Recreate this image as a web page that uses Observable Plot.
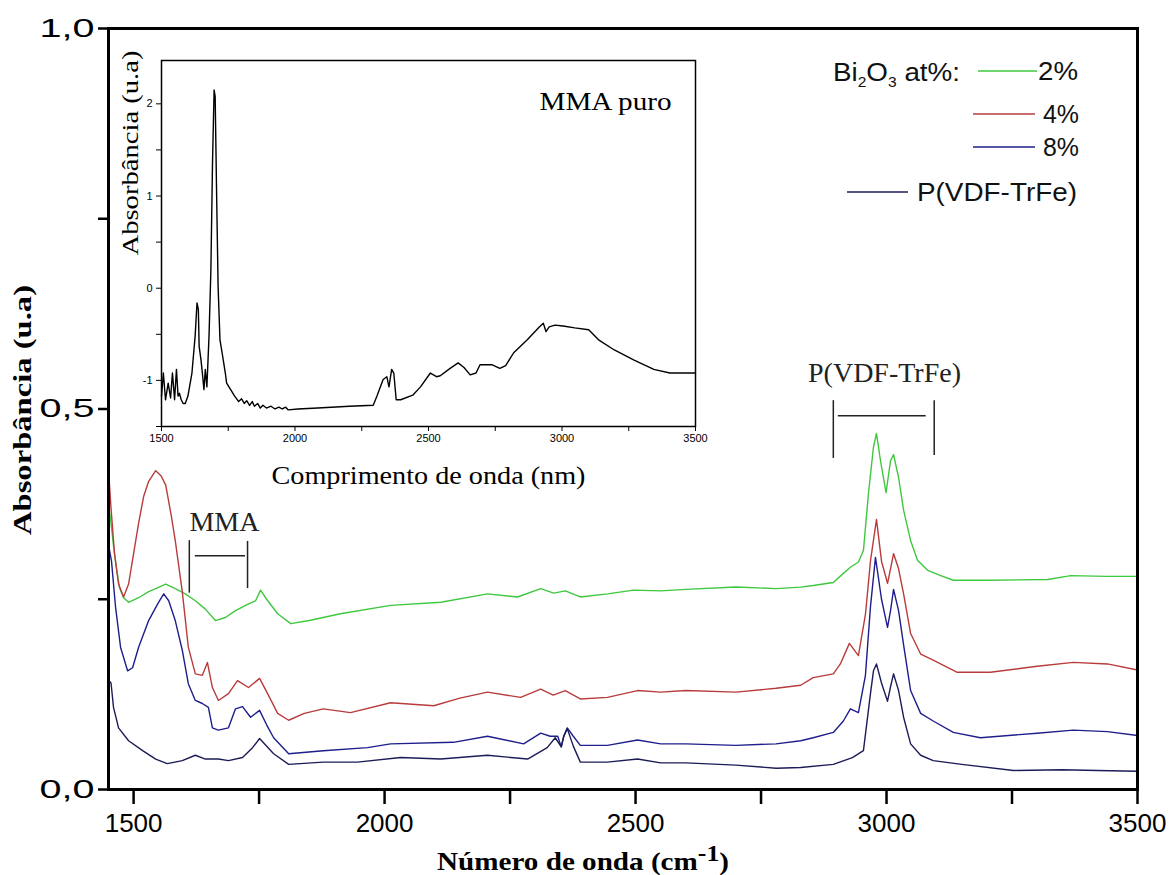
<!DOCTYPE html>
<html><head><meta charset="utf-8">
<script src="https://cdn.jsdelivr.net/npm/d3@7"></script>
<script src="https://cdn.jsdelivr.net/npm/@observablehq/plot@0.6"></script>
<style>
html,body{margin:0;padding:0;background:#fff;overflow:hidden;}
#wrap{position:relative;width:1172px;height:875px;}
#wrap svg{position:absolute;max-width:none;}
</style></head><body><div id="wrap"></div>
<script>
// ---------- main chart data (wavenumber cm-1, absorbance) ----------
const seriesNames = ["2%", "4%", "8%", "P(VDF-TrFe)"];
const seriesColors = ["#3fc83f", "#b83c3c", "#1e1e8c", "#1c1c58"];

const wn2 = [1451,1455,1460,1466,1472,1480,1490,1510,1530,1544,1564,1583,1603,1623,1643,1663,1683,1703,1729,1743,1753,1765,1787,1813,1850,1912,2012,2112,2205,2265,2311,2337,2360,2390,2444,2496,2550,2600,2700,2780,2829,2854,2894,2914,2928,2944,2954,2964,2974,2980,2988,2999,3008,3014,3024,3034,3048,3062,3082,3108,3133,3207,3321,3367,3440,3500];
const ab2 = [0.37,0.35,0.32,0.29,0.265,0.252,0.246,0.252,0.26,0.264,0.27,0.264,0.257,0.248,0.237,0.222,0.226,0.235,0.244,0.248,0.262,0.25,0.231,0.218,0.222,0.231,0.242,0.246,0.257,0.253,0.264,0.258,0.261,0.253,0.257,0.262,0.261,0.263,0.266,0.264,0.266,0.268,0.272,0.284,0.292,0.299,0.314,0.389,0.45,0.468,0.432,0.39,0.432,0.44,0.41,0.367,0.327,0.301,0.288,0.281,0.275,0.275,0.276,0.281,0.28,0.28];

const wn4 = [1451,1455,1462,1470,1480,1490,1500,1510,1520,1530,1544,1555,1564,1575,1583,1597,1609,1623,1637,1647,1657,1669,1689,1707,1729,1751,1767,1787,1809,1840,1878,1932,2012,2098,2150,2205,2271,2311,2336,2360,2390,2444,2504,2550,2600,2700,2780,2829,2854,2894,2908,2926,2944,2958,2968,2980,2990,3002,3008,3014,3024,3034,3048,3068,3093,3141,3207,3300,3372,3440,3500];
const ab4 = [0.41,0.37,0.31,0.27,0.253,0.27,0.31,0.35,0.385,0.405,0.419,0.412,0.40,0.36,0.327,0.26,0.187,0.152,0.15,0.167,0.134,0.117,0.126,0.143,0.134,0.146,0.126,0.1,0.091,0.1,0.106,0.101,0.114,0.11,0.12,0.128,0.121,0.132,0.124,0.13,0.119,0.121,0.13,0.128,0.13,0.128,0.133,0.137,0.147,0.152,0.165,0.192,0.176,0.23,0.30,0.355,0.30,0.271,0.29,0.31,0.29,0.257,0.205,0.178,0.17,0.154,0.154,0.162,0.167,0.165,0.157];

const wn8 = [1451,1456,1464,1474,1488,1498,1510,1530,1548,1560,1570,1583,1597,1609,1623,1637,1649,1657,1669,1689,1703,1717,1733,1751,1765,1779,1809,1878,1966,2012,2137,2205,2277,2311,2330,2345,2352,2357,2364,2376,2390,2444,2504,2550,2600,2700,2780,2829,2854,2894,2914,2928,2944,2958,2968,2978,2990,3002,3008,3014,3024,3034,3048,3068,3093,3133,3187,3300,3372,3440,3500];
const ab8 = [0.318,0.30,0.24,0.187,0.156,0.16,0.187,0.222,0.244,0.257,0.248,0.222,0.183,0.139,0.117,0.113,0.108,0.081,0.078,0.081,0.106,0.109,0.095,0.104,0.085,0.068,0.047,0.051,0.055,0.06,0.062,0.07,0.06,0.074,0.07,0.07,0.056,0.07,0.081,0.07,0.058,0.058,0.065,0.06,0.06,0.058,0.06,0.064,0.068,0.075,0.09,0.106,0.101,0.15,0.24,0.305,0.25,0.213,0.235,0.263,0.235,0.19,0.13,0.1,0.09,0.075,0.068,0.074,0.078,0.076,0.071];

const wnP = [1451,1455,1460,1470,1490,1518,1544,1567,1597,1623,1643,1669,1689,1717,1737,1751,1779,1809,1878,1946,2032,2112,2205,2285,2324,2340,2352,2357,2364,2376,2390,2444,2504,2550,2600,2700,2780,2829,2894,2932,2954,2968,2974,2980,2990,3002,3008,3014,3024,3034,3048,3068,3093,3150,3253,3350,3420,3500];
const abP = [0.143,0.14,0.108,0.081,0.064,0.051,0.04,0.034,0.038,0.045,0.04,0.04,0.038,0.042,0.055,0.067,0.047,0.033,0.036,0.036,0.042,0.04,0.045,0.04,0.055,0.068,0.056,0.07,0.08,0.057,0.036,0.036,0.04,0.035,0.035,0.032,0.028,0.029,0.033,0.042,0.051,0.126,0.156,0.165,0.14,0.116,0.135,0.152,0.13,0.095,0.06,0.045,0.038,0.033,0.025,0.026,0.025,0.024];

// ---------- inset data (MMA puro) ----------
const wnMMA = [1500,1507,1515,1525,1534,1541,1549,1556,1562,1567,1574,1581,1589,1599,1614,1626,1633,1638,1641,1648,1653,1659,1664,1670,1678,1685,1691,1697,1701,1706,1712,1719,1727,1733,1739,1744,1759,1774,1789,1800,1810,1819,1830,1840,1848,1860,1870,1880,1893,1910,1925,1940,1952,1965,1975,2011,2085,2204,2293,2307,2330,2344,2352,2362,2370,2379,2396,2441,2470,2507,2530,2544,2581,2611,2633,2656,2678,2693,2737,2767,2789,2819,2870,2915,2930,2940,2952,2974,3004,3048,3100,3137,3196,3270,3344,3404,3500];
const abMMA = [-1.17,-0.92,-1.21,-1.03,-1.19,-0.92,-1.21,-0.88,-1.17,-1.14,-1.21,-1.25,-1.25,-1.17,-0.92,-0.52,-0.16,-0.23,-0.63,-0.78,-0.92,-1.10,-0.88,-1.07,-0.52,0.2,1.35,2.15,2.08,1.1,0.02,-0.56,-0.70,-0.81,-0.92,-1.03,-1.10,-1.17,-1.23,-1.20,-1.25,-1.22,-1.27,-1.23,-1.28,-1.25,-1.30,-1.27,-1.30,-1.28,-1.31,-1.29,-1.31,-1.29,-1.32,-1.31,-1.30,-1.28,-1.27,-1.17,-0.99,-0.96,-1.07,-0.88,-0.92,-1.21,-1.21,-1.16,-1.07,-0.92,-0.96,-0.95,-0.87,-0.81,-0.86,-0.94,-0.92,-0.83,-0.83,-0.87,-0.84,-0.70,-0.56,-0.42,-0.38,-0.47,-0.42,-0.40,-0.41,-0.43,-0.45,-0.56,-0.67,-0.78,-0.88,-0.92,-0.92];

// ---------- ticks ----------
const xTicks = [1500,1750,2000,2250,2500,2750,3000,3250,3500];
const yTicks = [0,0.25,0.5,0.75,1];
const insetXTicks = [1500,1750,2000,2250,2500,2750,3000,3250,3500];
const insetYTicks = [-1.5,-1,-0.5,0,0.5,1,1.5,2];

// ---------- annotations (data coordinates) ----------
const mmaBars = [{x:1611,y1:0.258,y2:0.327},{x:1727,y1:0.264,y2:0.326}];
const mmaSpan = [{x1:1623,x2:1723,y:0.307}];
const mmaLabel = [{x:1681,y:0.351,t:"MMA"}];
const pvBars = [{x:2894,y1:0.435,y2:0.511},{x:3095,y1:0.439,y2:0.511}];
const pvSpan = [{x1:2904,x2:3079,y:0.491}];
const pvLabel = [{x:2996,y:0.547,t:"P(VDF-TrFe)"}];

const wnList = [wn2, wn4, wn8, wnP];
const abList = [ab2, ab4, ab8, abP];
const rows = [];
seriesNames.forEach((s, i) => wnList[i].forEach((x, j) => rows.push({series: s, x, y: abList[i][j]})));
const mmaRows = wnMMA.map((x, i) => ({x, y: abMMA[i]}));

const serif = "Liberation Serif, Times New Roman, serif";
const sans = "Liberation Sans, Arial, sans-serif";

const main = Plot.plot({
  width: 1172, height: 875,
  marginLeft: 108, marginRight: 35, marginTop: 28, marginBottom: 86,
  x: {domain: [1450, 3500]},
  y: {domain: [0, 1]},
  color: {domain: seriesNames, range: seriesColors},
  style: {fontFamily: sans, background: "transparent", color: "black"},
  marks: [
    Plot.axisX({ticks: xTicks, tickSize: 15, tickPadding: 9, strokeWidth: 2.5, fontSize: 26,
      tickFormat: d => d % 500 === 0 ? String(d) : "", label: null}),
    Plot.axisY({ticks: yTicks, tickSize: 10, tickPadding: 4, strokeWidth: 2.5, fontSize: 26,
      tickFormat: d => (d === 0 || d === 0.5 || d === 1) ? d.toFixed(1).replace(".", ",") : "", label: null}),
    Plot.line(rows, {x: "x", y: "y", z: "series", stroke: "series", strokeWidth: 1.4}),
    Plot.ruleX(mmaBars, {x: "x", y1: "y1", y2: "y2", stroke: "#222", strokeWidth: 1.5}),
    Plot.ruleY(mmaSpan, {x1: "x1", x2: "x2", y: "y", stroke: "#222", strokeWidth: 1.5}),
    Plot.text(mmaLabel, {x: "x", y: "y", text: "t", fontSize: 28, fontFamily: serif, fill: "#222"}),
    Plot.ruleX(pvBars, {x: "x", y1: "y1", y2: "y2", stroke: "#222", strokeWidth: 1.5}),
    Plot.ruleY(pvSpan, {x1: "x1", x2: "x2", y: "y", stroke: "#222", strokeWidth: 1.5}),
    Plot.text(pvLabel, {x: "x", y: "y", text: "t", fontSize: 28, fontFamily: serif, fill: "#222"}),
    Plot.frame({stroke: "black", strokeWidth: 3})
  ]
});
main.style.left = "0px"; main.style.top = "0px";

// widen y tick labels a little, like the reference
d3.select(main).selectAll('g[aria-label="y-axis tick label"] text').attr("textLength", 55).attr("lengthAdjust", "spacingAndGlyphs");

// legend + axis titles
const g = d3.select(main).append("g");
const lg = g.append("g").attr("font-family", sans).attr("font-size", 25).attr("fill", "#111").attr("text-anchor", "start");
lg.append("text").attr("x", 833).attr("y", 81).attr("textLength", 127).attr("lengthAdjust", "spacingAndGlyphs")
  .html('Bi<tspan font-size="14" dy="6">2</tspan><tspan dy="-6">O</tspan><tspan font-size="14" dy="6">3</tspan><tspan dy="-6"> at%:</tspan>');
const legRows = [
  {x1: 978, x2: 1037, y: 71, tx: 1038, len: 40},
  {x1: 973, x2: 1035, y: 114, tx: 1043, len: 36},
  {x1: 973, x2: 1035, y: 147, tx: 1043, len: 36},
  {x1: 847, x2: 908, y: 192, tx: 917, len: 160}
];
legRows.forEach((r, i) => {
  lg.append("line").attr("x1", r.x1).attr("x2", r.x2).attr("y1", r.y).attr("y2", r.y)
    .attr("stroke", seriesColors[i]).attr("stroke-width", 1.5);
  lg.append("text").attr("x", r.tx).attr("y", r.y + 9)
    .attr("textLength", r.len).attr("lengthAdjust", "spacingAndGlyphs").text(seriesNames[i]);
});
g.append("text").attr("transform", "translate(22,410) rotate(-90)")
  .attr("text-anchor", "middle").attr("dominant-baseline", "central")
  .attr("font-family", serif).attr("font-weight", "bold").attr("font-size", 26)
  .attr("textLength", 250).attr("lengthAdjust", "spacingAndGlyphs")
  .text("Absorbância (u.a)");
g.append("text").attr("x", 583).attr("y", 870).attr("text-anchor", "middle")
  .attr("font-family", serif).attr("font-weight", "bold").attr("font-size", 26)
  .attr("textLength", 292).attr("lengthAdjust", "spacingAndGlyphs")
  .html('Número de onda (cm<tspan dy="-9" font-size="23">-1</tspan><tspan dy="9">)</tspan>');

// ---------- inset ----------
const inset = Plot.plot({
  width: 620, height: 470,
  marginLeft: 65, marginRight: 21, marginTop: 20, marginBottom: 84,
  x: {domain: [1500, 3500]},
  y: {domain: [-1.5, 2.47]},
  style: {fontFamily: sans, background: "transparent", color: "black"},
  marks: [
    Plot.axisX({ticks: insetXTicks, tickSize: 5, tickPadding: 3, fontSize: 11,
      tickFormat: d => d % 500 === 0 ? String(d) : "", label: null}),
    Plot.axisY({ticks: insetYTicks, tickSize: 5, tickPadding: 4, fontSize: 11,
      tickFormat: d => Number.isInteger(d) ? (d < 0 ? "-" + Math.abs(d) : String(d)) : "", label: null}),
    Plot.line(mmaRows, {x: "x", y: "y", stroke: "black", strokeWidth: 1.4}),
    Plot.frame({stroke: "black", strokeWidth: 1.5}),
    Plot.text(["MMA puro"], {text: d => d, frameAnchor: "top-right", dx: -24, dy: 31, lineAnchor: "top",
      textAnchor: "end", fontSize: 26, fontFamily: serif}),
    Plot.text(["Comprimento de onda (nm)"], {text: d => d, frameAnchor: "bottom", dy: 49, lineAnchor: "middle",
      fontSize: 25, fontFamily: serif}),
    Plot.text(["Absorbância (u.a)"], {text: d => d, frameAnchor: "left", dx: -31, dy: 12, rotate: -90,
      fontSize: 24, fontFamily: serif})
  ]
});
inset.style.left = "96px"; inset.style.top = "40px";
const fitText = (svg, content, len) => d3.select(svg).selectAll("text")
  .filter(function () { return this.textContent === content; })
  .attr("textLength", len).attr("lengthAdjust", "spacingAndGlyphs");
fitText(inset, "MMA puro", 132);
fitText(inset, "Comprimento de onda (nm)", 314);
fitText(inset, "Absorbância (u.a)", 205);

const wrap = document.getElementById("wrap");
wrap.appendChild(main);
wrap.appendChild(inset);
</script></body></html>
